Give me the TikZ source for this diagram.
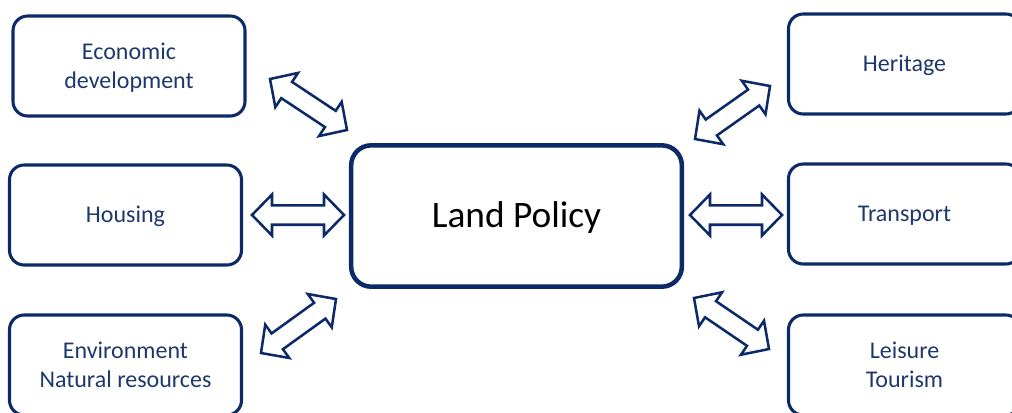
\documentclass[tikz,border=0pt]{standalone}
\usepackage{fontspec}
\setmainfont{Carlito}
\usetikzlibrary{calc}
\usetikzlibrary{positioning}

\definecolor{navyline}{RGB}{12,42,104}
\definecolor{navytext}{RGB}{30,56,110}

\tikzset{
    topicbox/.style={draw=navyline,line width=2.3pt,rounded corners=11pt,
        minimum width=174pt,minimum height=75pt,align=center,
        text=navytext,font=\fontsize{18}{22}\selectfont},
    oneline/.style={text height=12.6pt,text depth=1.1pt},
    policybox/.style={draw=navyline,line width=3.4pt,rounded corners=15pt,
        minimum width=248pt,minimum height=106pt,
        text height=19.6pt,text depth=1.7pt,
        font=\fontsize{28}{34}\selectfont},
    blockarrow/.style={draw=navyline,fill=white,line width=1.9pt,line join=miter}
}

% hollow two-headed arrow between two named points
\newcommand{\dblarrow}[2]{%
    \coordinate (#1-h) at ($(#1)!15pt!(#2)$);
    \coordinate (#2-h) at ($(#2)!15pt!(#1)$);
    \draw[blockarrow] (#1)
        -- ($(#1-h)!15.4pt!90:(#2)$) -- ($(#1-h)!7.3pt!90:(#2)$)
        -- ($(#2-h)!7.3pt!-90:(#1)$) -- ($(#2-h)!15.4pt!-90:(#1)$)
        -- (#2)
        -- ($(#2-h)!15.4pt!90:(#1)$) -- ($(#2-h)!7.3pt!90:(#1)$)
        -- ($(#1-h)!7.3pt!-90:(#2)$) -- ($(#1-h)!15.4pt!-90:(#2)$)
        -- cycle;
}

\begin{document}
\begin{tikzpicture}[x=0.75pt,y=-0.75pt]
    \useasboundingbox (0,0) rectangle (1012,412);
    \clip (0,0) rectangle (1012,412);

    % boxes
    \node[policybox] (land) at (516.5,216) {Land Policy};

    \node[topicbox] (econ) at (129,66) {Economic\\\smash{development}};
    \node[topicbox,oneline] (housing) at (125.5,215) {Housing};
    \node[topicbox] (environ) at (125.5,365) {Environment\\Natural resources};

    \node[topicbox,oneline] (heritage) at (904.5,64) {Heritage};
    \node[topicbox,oneline] (transport) at (904.5,214) {Transport};
    \node[topicbox] (leisure) at (904.5,365) {Leisure\\Tourism};

    % arrow ends
    \coordinate (econ-a) at (270,79);
    \coordinate (econ-b) at (347,130);
    \coordinate (housing-a) at (252,215);
    \coordinate (housing-b) at (344,215);
    \coordinate (environ-a) at (261,353);
    \coordinate (environ-b) at (336,299);
    \coordinate (heritage-a) at (695,139);
    \coordinate (heritage-b) at (770,86);
    \coordinate (transport-a) at (690,215);
    \coordinate (transport-b) at (782,215);
    \coordinate (leisure-a) at (694,298);
    \coordinate (leisure-b) at (769,349);

    \dblarrow{econ-a}{econ-b}
    \dblarrow{housing-a}{housing-b}
    \dblarrow{environ-a}{environ-b}
    \dblarrow{heritage-a}{heritage-b}
    \dblarrow{transport-a}{transport-b}
    \dblarrow{leisure-a}{leisure-b}
\end{tikzpicture}
\end{document}
